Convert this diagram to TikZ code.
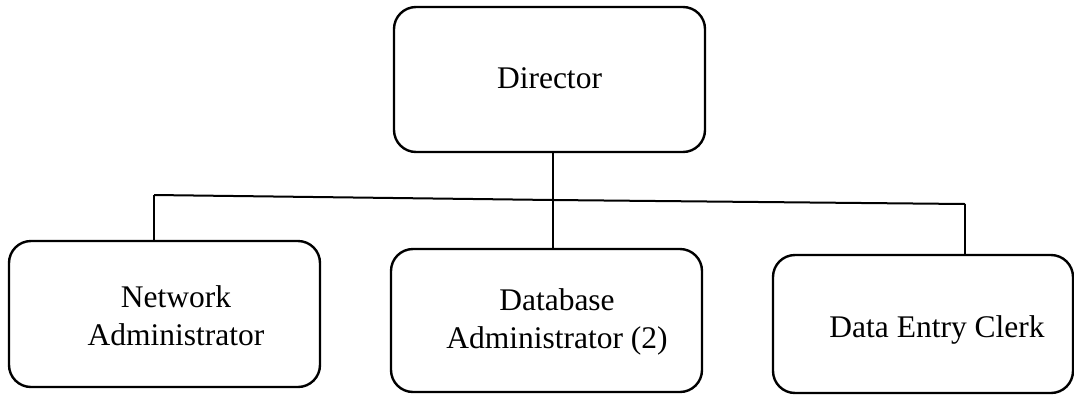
\documentclass[tikz,border=0pt]{standalone}
\usepackage{fontspec}
\setmainfont{Liberation Serif}
\begin{document}
\begin{tikzpicture}[x=1pt, y=-1pt,
  box/.style={draw, line width=2.4pt, rounded corners=22pt, inner sep=0pt},
  label text/.style={align=center, inner sep=0pt,
    font=\fontsize{31.5}{38}\selectfont},
  link/.style={line width=2pt}]
  \useasboundingbox (0,0) rectangle (1074,397);

  % boxes
  \node[box, minimum width=311pt, minimum height=145pt] (dir) at (549.5,79.5) {};
  \node[box, minimum width=311pt, minimum height=146pt] (net) at (164.5,314) {};
  \node[box, minimum width=311pt, minimum height=143pt] (dba) at (546.5,320.5) {};
  \node[box, minimum width=300pt, minimum height=138pt] (clerk) at (923,324) {};

  % box captions
  \node[label text] (dir-t) at (549.5,78) {Director};
  \node[label text] (net-t) at (176,316) {Network\\Administrator};
  \node[label text] (dba-t) at (557,322) {Database\\Administrator (2)};
  \node[label text] (clerk-t) at (937,330) {Data Entry Clerk};

  % reporting lines
  \coordinate (busL) at (154,195);
  \coordinate (busM) at (553,200);
  \coordinate (busR) at (965,204);
  \draw[link] (dir.south -| busM) -- (busM);
  \draw[link] (busL) -- (busM) -- (busR);
  \draw[link] (busL) -- (busL |- net.north);
  \draw[link] (busM) -- (busM |- dba.north);
  \draw[link] (busR) -- (busR |- clerk.north);
\end{tikzpicture}
\end{document}
